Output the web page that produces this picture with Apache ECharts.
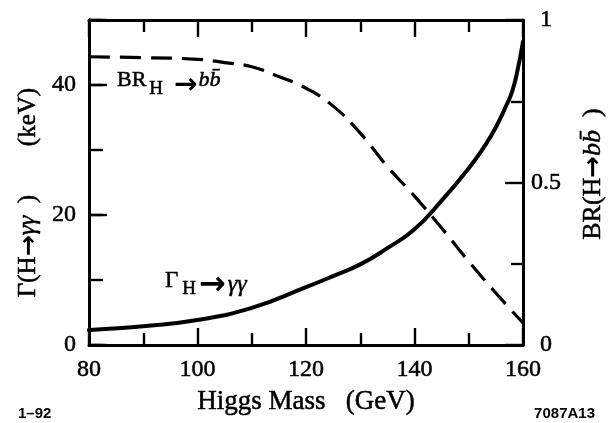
<!DOCTYPE html>
<html>
<head>
<meta charset="utf-8">
<script src="https://cdn.jsdelivr.net/npm/echarts@6/dist/echarts.min.js"></script>
<style>
  html, body { margin: 0; padding: 0; background: #fff; }
  #chart { width: 612px; height: 423px; }
</style>
</head>
<body>
<div id="chart"></div>
<script>
// Two-photon width of the Higgs (keV, left axis) versus mass
const gammaMass  = [80, 90, 100, 110, 120, 125, 130, 135, 140, 145, 150, 153, 155, 157, 158, 159, 160];
const gammaWidth = [2.3, 2.9, 3.85, 5.7, 8.9, 10.6, 12.4, 14.9, 17.8, 22.2, 27.2, 30.7, 33.5, 37.0, 39.0, 42.3, 46.7];

// Branching ratio H -> b bbar (right axis) versus mass
const brMass = [80, 90, 100, 105, 110, 115, 120, 125, 130, 135, 140, 145, 150, 155, 160];
const brBB   = [0.887, 0.884, 0.879, 0.869, 0.856, 0.826, 0.79, 0.735, 0.652, 0.549, 0.458, 0.36, 0.257, 0.16, 0.068];

// Tick labels that are printed on each axis
const massTickLabels  = [80, 100, 120, 140, 160];
const widthTickLabels = [0, 20, 40];
const brTickLabels    = [0, 0.5, 1];

const serif = '"Liberation Serif", "Times New Roman", serif';
const sans  = '"Liberation Sans", Arial, sans-serif';
const arrowFont = '"DejaVu Sans", sans-serif';
const ink = '#000';
// a thin outline thickens the serif glyphs a little
const heavyLabel = { textBorderColor: ink, textBorderWidth: 0.5 };
const heavy = { stroke: ink, lineWidth: 0.5 };

function pairs(xs, ys) { return xs.map((x, i) => [x, ys[i]]); }
function onlyIn(list) { return v => (list.some(t => Math.abs(t - v) < 1e-9) ? String(v) : ''); }
function rich(base) { return Object.assign({ fill: ink, fontFamily: serif }, heavy, base); }

const frame = { show: true, onZero: false, lineStyle: { color: ink, width: 3 } };
const tick = len => ({ show: true, inside: true, length: len, lineStyle: { color: ink, width: 2.4 } });
const minor = len => ({ show: true, splitNumber: 2, length: len, lineStyle: { color: ink, width: 2.4 } });
const noSplit = { show: false };
const tickText = Object.assign({ color: ink, fontFamily: serif, fontSize: 24 }, heavyLabel);

const chart = echarts.init(document.getElementById('chart'), null, { renderer: 'canvas' });

chart.setOption({
  animation: false,
  backgroundColor: '#fff',
  grid: { left: 89, right: 89, top: 20, bottom: 78, containLabel: false },
  xAxis: [
    {
      type: 'value', position: 'bottom', min: 80, max: 160, interval: 20,
      axisLine: frame, axisTick: tick(17), minorTick: minor(12), splitLine: noSplit,
      axisLabel: Object.assign({ margin: 13, formatter: onlyIn(massTickLabels) }, tickText)
    },
    {
      type: 'value', position: 'top', min: 80, max: 160, interval: 20,
      axisLine: frame, axisTick: tick(17), minorTick: minor(12), splitLine: noSplit,
      axisLabel: { show: false }
    }
  ],
  yAxis: [
    {
      // short ticks every 10 keV
      type: 'value', position: 'left', min: 0, max: 50, interval: 10,
      axisLine: frame, axisTick: tick(14), splitLine: noSplit,
      axisLabel: { show: false }
    },
    {
      // long labelled ticks every 20 keV
      type: 'value', position: 'left', min: 0, max: 50, interval: 20,
      axisLine: frame, axisTick: tick(18), splitLine: noSplit,
      axisLabel: Object.assign({ margin: 13, formatter: onlyIn(widthTickLabels) }, tickText)
    },
    {
      type: 'value', position: 'right', min: 0, max: 1, interval: 0.5,
      axisLine: frame, axisTick: tick(18), minorTick: minor(12), splitLine: noSplit,
      axisLabel: Object.assign({ margin: 23, align: 'center', formatter: onlyIn(brTickLabels) }, tickText)
    }
  ],
  series: [
    {
      name: 'Γ(H→γγ)', type: 'line', xAxisIndex: 0, yAxisIndex: 0,
      data: pairs(gammaMass, gammaWidth),
      smooth: 0.5, symbol: 'none', silent: true,
      lineStyle: { color: ink, width: 4, cap: 'round', join: 'round' }
    },
    {
      name: 'BR(H→bb̄)', type: 'line', xAxisIndex: 0, yAxisIndex: 2,
      data: pairs(brMass, brBB),
      smooth: 0.5, symbol: 'none', silent: true,
      lineStyle: { color: ink, width: 3.2, type: [21, 10] }
    }
  ],
  graphic: [
    // axis titles
    {
      type: 'text', x: 306, y: 402,
      style: { text: 'Higgs Mass   (GeV)', fill: ink, font: '27px ' + serif, align: 'center', verticalAlign: 'middle', stroke: ink, lineWidth: 0.5 }
    },
    {
      type: 'text', x: 28, y: 246, rotation: Math.PI / 2,
      style: {
        text: '{n|Γ(H}{a|→}{g|γγ}{n|  )}', align: 'center', verticalAlign: 'middle',
        rich: {
          n: rich({ fontSize: 25 }),
          a: { fill: ink, fontFamily: arrowFont, fontSize: 25, fontWeight: 'bold', padding: [2, 0, 0, 0] },
          g: rich({ fontSize: 25, fontStyle: 'italic' })
        }
      }
    },
    {
      type: 'text', x: 28, y: 117, rotation: Math.PI / 2,
      style: { text: '(keV)', fill: ink, font: '25px ' + serif, align: 'center', verticalAlign: 'middle', stroke: ink, lineWidth: 0.5 }
    },
    {
      type: 'text', x: 593, y: 174, rotation: Math.PI / 2,
      style: {
        text: '{n|BR(H}{a|→}{i|bb\u0304}{n|  )}', align: 'center', verticalAlign: 'middle',
        rich: {
          n: rich({ fontSize: 26 }),
          a: { fill: ink, fontFamily: arrowFont, fontSize: 26, fontWeight: 'bold', padding: [2, 0, 0, 0] },
          i: rich({ fontSize: 26, fontStyle: 'italic' })
        }
      }
    },
    // curve annotations
    {
      type: 'text', x: 117, y: 80,
      style: {
        text: '{n|BR}{s|H}{a|→}{i|bb\u0304}', align: 'left', verticalAlign: 'middle',
        rich: {
          n: rich({ fontSize: 22 }),
          s: rich({ fontSize: 19, padding: [18, 0, 0, 3] }),
          a: { fill: ink, fontFamily: arrowFont, fontSize: 28, fontWeight: 'bold', padding: [12, 0, 0, 11] },
          i: rich({ fontSize: 22, fontStyle: 'italic', padding: [0, 0, 0, 1] })
        }
      }
    },
    {
      type: 'text', x: 165, y: 281,
      style: {
        text: '{n|Γ}{s|H}{a|→}{g|γγ}', align: 'left', verticalAlign: 'middle',
        rich: {
          n: rich({ fontSize: 23 }),
          s: rich({ fontSize: 19, padding: [16, 0, 0, 4] }),
          a: { fill: ink, fontFamily: arrowFont, fontSize: 32, fontWeight: 'bold', padding: [10, 0, 0, 3] },
          g: rich({ fontSize: 24, fontStyle: 'italic', padding: [7, 0, 0, 2] })
        }
      }
    },
    // figure codes
    {
      type: 'text', x: 18, y: 414,
      style: { text: '1–92', fill: ink, font: 'bold 15px ' + sans, align: 'left', verticalAlign: 'middle' }
    },
    {
      type: 'text', x: 595, y: 414,
      style: { text: '7087A13', fill: ink, font: 'bold 15px ' + sans, align: 'right', verticalAlign: 'middle' }
    }
  ]
});
</script>
</body>
</html>
